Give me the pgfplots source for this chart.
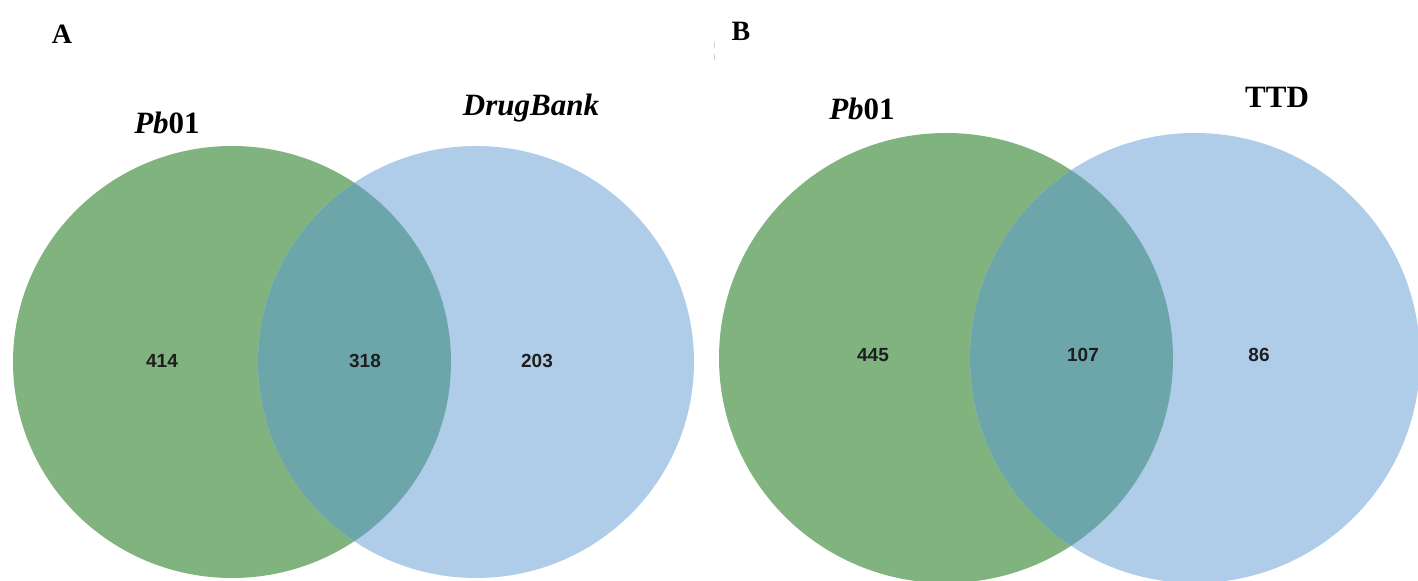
\documentclass[border=0pt]{standalone}
\usepackage{pgfplots}
\pgfplotsset{compat=1.18}
\usepackage{pgfplotstable}
\usepackage{fontspec}
\setmainfont{Liberation Serif}
\newfontfamily\arialfont{Liberation Sans}
\definecolor{vgreen}{HTML}{80B37E}
\definecolor{vblue}{HTML}{AFCCE9}
\definecolor{vover}{HTML}{6CA6AA}
\definecolor{numcol}{HTML}{1E1E1E}

% region counts: x, y (pixel position), label
\pgfplotstableread{
x    y   label
162  361 414
365  361 318
537  361 203
873  355 445
1083 355 107
1259 355 86
}\counts

\begin{document}
\begin{tikzpicture}
\begin{axis}[
  scale only axis, width=709pt, height=290.5pt,
  xmin=0, xmax=1418, ymin=0, ymax=581, y dir=reverse,
  axis lines=none, ticks=none, clip=true,
]
% Panel A
\fill[vgreen] (axis cs:232,362) ellipse [x radius=219, y radius=216];
\fill[vblue]  (axis cs:476,362) ellipse [x radius=218, y radius=216];
\begin{scope}
  \clip (axis cs:232,362) ellipse [x radius=219, y radius=216];
  \fill[vover] (axis cs:476,362) ellipse [x radius=218, y radius=216];
\end{scope}
% Panel B
\fill[vgreen] (axis cs:946,358) ellipse [x radius=227, y radius=225];
\fill[vblue]  (axis cs:1195,358) ellipse [x radius=225, y radius=225];
\begin{scope}
  \clip (axis cs:946,358) ellipse [x radius=227, y radius=225];
  \fill[vover] (axis cs:1195,358) ellipse [x radius=225, y radius=225];
\end{scope}

\addplot[draw=none, mark=none, nodes near coords, point meta=explicit symbolic,
  nodes near coords style={anchor=center, text=numcol, font=\arialfont\bfseries\fontsize{9.5}{10}\selectfont}]
  table[x=x, y=y, meta=label] {\counts};

\node[font=\fontsize{14}{14}\selectfont\bfseries] at (axis cs:62,34) {A};
\node[font=\fontsize{14}{14}\selectfont\bfseries] at (axis cs:741,31) {B};
\draw[gray!35, dashed] (axis cs:714,42) -- (axis cs:714,62);
\node[font=\fontsize{15.5}{16}\selectfont\bfseries] at (axis cs:167,123) {\textit{Pb}01};
\node[font=\fontsize{15.5}{16}\selectfont\bfseries\itshape] at (axis cs:531,108) {DrugBank};
\node[font=\fontsize{15.5}{16}\selectfont\bfseries] at (axis cs:862,109) {\textit{Pb}01};
\node[font=\fontsize{15.5}{16}\selectfont\bfseries] at (axis cs:1277,97) {TTD};
\end{axis}
\pgfresetboundingbox
\path[use as bounding box] (current axis.south west) rectangle (current axis.north east);
\end{tikzpicture}
\end{document}
